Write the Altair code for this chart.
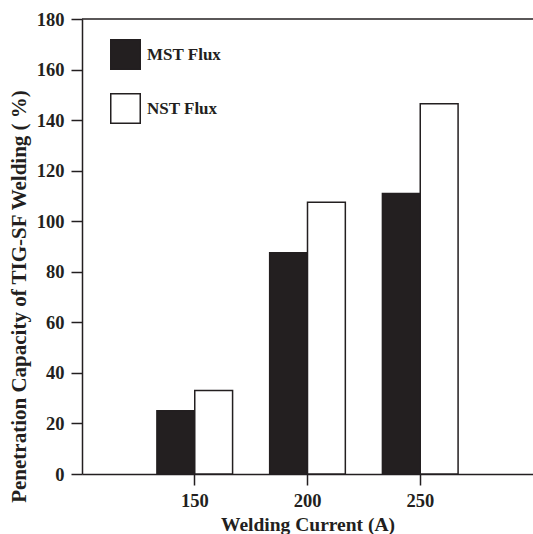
import altair as alt
import pandas as pd

currents = ["150", "200", "250"]
series = ["MST Flux", "NST Flux"]
mst = [25, 87.5, 111]
nst = [33, 107.5, 146.5]
y_ticks = list(range(0, 190, 10))

rows = []
for c, m, n in zip(currents, mst, nst):
    rows.append({"current": c, "flux": series[0], "value": m})
    rows.append({"current": c, "flux": series[1], "value": n})
df = pd.DataFrame(rows)

INK = "#231f20"
FONT = "Liberation Serif"

bars = alt.Chart(df).mark_bar(stroke=INK, strokeWidth=1.5, opacity=1).encode(
    x=alt.X(
        "current:N",
        sort=currents,
        scale=alt.Scale(paddingInner=0, paddingOuter=0.5),
        axis=alt.Axis(
            title="Welding Current (A)",
            labelAngle=0,
            tickSize=11,
            labelPadding=6,
            labelFontSize=18.5,
            titleFontSize=19.5,
            titleY=56,
            titleBaseline="alphabetic",
        ),
    ),
    xOffset=alt.XOffset(
        "flux:N", sort=series, scale=alt.Scale(paddingInner=0, paddingOuter=0.49)
    ),
    y=alt.Y(
        "value:Q",
        scale=alt.Scale(domain=[0, 180], nice=False),
        axis=alt.Axis(
            title="Penetration Capacity of TIG-SF Welding ( %)",
            values=y_ticks,
            labelExpr="datum.value % 20 === 0 ? datum.label : ''",
            tickSize={"condition": {"test": "datum.value % 20 === 0", "value": 11}, "value": 6},
            labelPadding=7,
            labelFontSize=18.5,
            titleFontSize=21,
            titleX=-57,
            titleY=277,
            titleAlign="center",
            titleBaseline="alphabetic",
        ),
    ),
    fill=alt.Fill(
        "flux:N",
        scale=alt.Scale(domain=series, range=[INK, "#ffffff"]),
        legend=alt.Legend(
            title=None,
            orient="none",
            legendX=28,
            legendY=20,
            symbolType="square",
            symbolSize=870,
            symbolStrokeColor=INK,
            symbolStrokeWidth=1.5,
            symbolOpacity=1,
            rowPadding=17,
            labelOffset=6,
            labelFontSize=17,
            labelFont=FONT,
            labelFontWeight="bold",
            labelColor=INK,
            padding=0,
        ),
    ),
)

top_line = alt.Chart(pd.DataFrame({"v": [180]})).mark_rule(color=INK, strokeWidth=1.5).encode(
    y=alt.Y("v:Q")
)

chart = (
    alt.layer(bars, top_line)
    .properties(
        width=451,
        height=455,
        padding={"left": 82, "top": 19, "right": 0, "bottom": 60},
        autosize=alt.AutoSizeParams(type="none"),
        background="white",
    )
    .configure_view(stroke=None)
    .configure_axis(
        domainColor=INK,
        domainWidth=1.5,
        tickColor=INK,
        tickWidth=1.5,
        grid=False,
        labelFont=FONT,
        labelFontWeight="bold",
        labelColor=INK,
        titleFont=FONT,
        titleFontWeight="bold",
        titleColor=INK,
    )
)

chart.save("out.html", embed_options={"renderer": "svg", "actions": False})
